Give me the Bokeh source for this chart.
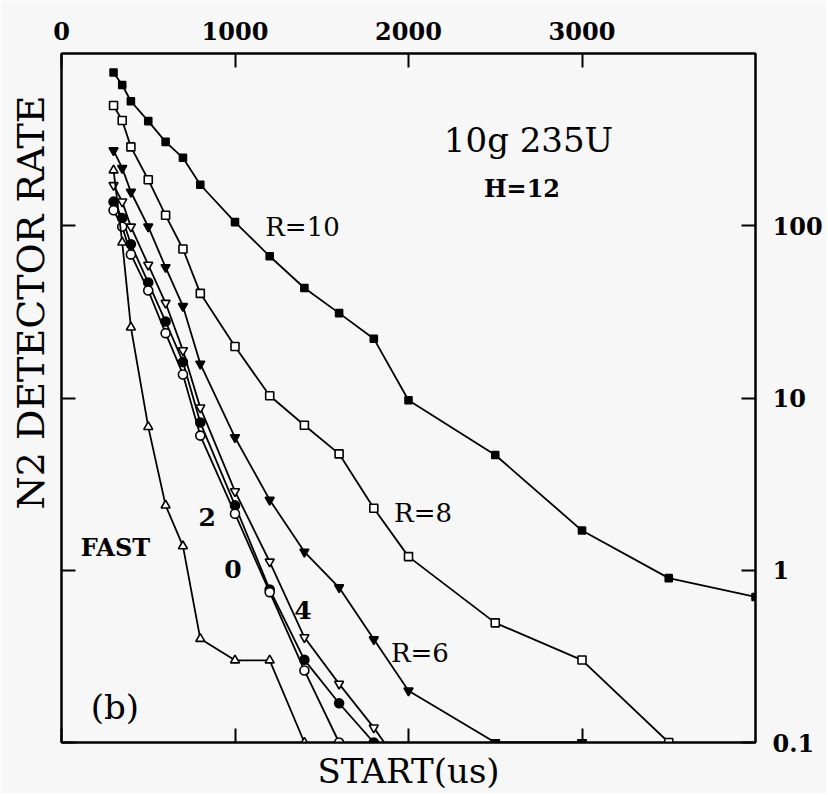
import math
from bokeh.plotting import figure
from bokeh.models import Range1d, LinearAxis, LogAxis, FixedTicker, Title
from bokeh.core.properties import value
from bokeh.embed import file_html
from bokeh.resources import INLINE

# ---- data ----
start_us = [300, 350, 400, 500, 600, 700, 800, 1000, 1200, 1400, 1600, 1800,
            2000, 2500, 3000, 3500, 4000]

r10_x = start_us[:17]
r10_rate = [776, 656, 528, 405, 307, 248, 173, 105, 66.5, 43.5, 31.1, 22.1,
            9.7, 4.67, 1.70, 0.90, 0.70]

r8_x = start_us[:16]
r8_rate = [499, 408, 287, 185, 115, 73.3, 40.5, 19.9, 10.3, 6.95, 4.74, 2.29,
           1.20, 0.495, 0.301, 0.10]

r6_x = start_us[:15]
r6_rate = [274, 216, 157, 98.7, 57.4, 34.1, 15.8, 5.90, 2.56, 1.28, 0.794,
           0.397, 0.200, 0.10, 0.10]

r4_x = start_us[:13]
r4_rate = [172, 138, 98.7, 59.3, 35.6, 18.9, 8.79, 2.87, 1.12, 0.408, 0.219,
           0.122, 0.063]

r2_x = start_us[:12]
r2_rate = [138, 111, 78, 46.8, 27.8, 16.2, 7.2, 2.38, 0.773, 0.302, 0.169, 0.10]

r0_x = start_us[:11]
r0_rate = [123, 98.7, 68.2, 42.1, 23.8, 13.7, 6.05, 2.13, 0.746, 0.262, 0.10]

fast_x = start_us[:10]
fast_rate = [210, 80, 25.7, 6.8, 2.38, 1.38, 0.40, 0.30, 0.30, 0.10]

x_ticks = [0, 1000, 2000, 3000]
y_ticks = [0.1, 1, 10, 100]
y_tick_labels = ["0.1", "1", "10", "100"]

SERIF = "DejaVu Serif"
BG = "#f7f7f7"

p = figure(width=826, height=793, x_range=Range1d(0, 4000),
           y_range=Range1d(0.1, 1000), y_axis_type="log",
           output_backend="svg", toolbar_location=None,
           min_border_left=61, min_border_top=53, min_border_bottom=51,
           min_border_right=71)
p.background_fill_color = BG
p.border_fill_color = BG
p.outline_line_color = "black"
p.outline_line_width = 2
p.xgrid.visible = False
p.ygrid.visible = False

def style_axis(ax, show_labels):
    ax.axis_line_color = "black"
    ax.axis_line_width = 2
    ax.major_tick_in = 14
    ax.major_tick_out = 0
    ax.major_tick_line_width = 2
    ax.major_tick_line_color = "black"
    ax.minor_tick_line_color = None
    ax.major_label_text_font = SERIF
    ax.major_label_text_font_style = "bold"
    ax.major_label_text_color = "black"
    if not show_labels:
        ax.major_label_text_font_size = "1px"
        ax.major_label_text_color = None
        ax.major_label_standoff = 0

# bottom & left: ticks only (titles added separately)
p.xaxis.ticker = FixedTicker(ticks=x_ticks)
p.yaxis.ticker = FixedTicker(ticks=y_ticks)
for ax in p.xaxis:
    style_axis(ax, False)
    ax.axis_label = "START(us)"
    ax.axis_label_text_font = SERIF
    ax.axis_label_text_font_style = "normal"
    ax.axis_label_text_font_size = "34px"
    ax.axis_label_text_color = "black"
    ax.axis_label_standoff = 8
for ax in p.yaxis:
    style_axis(ax, False)

top = LinearAxis(ticker=FixedTicker(ticks=x_ticks))
style_axis(top, True)
top.major_label_text_font_size = "24px"
top.major_label_standoff = 14
p.add_layout(top, "above")

right = LogAxis(ticker=FixedTicker(ticks=y_ticks))
style_axis(right, True)
right.major_label_text_font_size = "24px"
right.major_label_standoff = 17
right.major_label_overrides = {t: s for t, s in zip(y_ticks, y_tick_labels)}
p.add_layout(right, "right")

ytitle = Title(text="N2 DETECTOR RATE", align="right", offset=42,
               vertical_align="top",
               text_font=SERIF, text_font_size="38px",
               text_font_style="normal", text_color="black", standoff=14)
p.add_layout(ytitle, "left")

LW = 1.8
def series(xs, ys, marker, filled, size):
    p.line(xs, ys, line_color="black", line_width=LW)
    p.scatter(xs, ys, marker=marker, size=size, line_color="black",
              line_width=1.6, fill_color="black" if filled else "white")

series(r10_x, r10_rate, "square", True, 7)
series(r8_x, r8_rate, "square", False, 8)
series(r6_x, r6_rate, "inverted_triangle", True, 9)
series(r4_x, r4_rate, "inverted_triangle", False, 9)
series(r2_x, r2_rate, "circle", True, 9)
series(r0_x, r0_rate, "circle", False, 9)
series(fast_x, fast_rate, "triangle", False, 9)

def txt(x, y, s, size, style="normal", align="center"):
    p.text(x=[x], y=[y], text=[s], text_font=value(SERIF),
           text_font_size=value(size), text_font_style=style,
           text_align=align, text_baseline="alphabetic", text_color="black")

txt(2692, 313, "10g 235U", "34px")
txt(2654, 165, "H=12", "24px", "bold")
txt(1389, 98, "R=10", "26px")
txt(2084, 2.16, "R=8", "26px")
txt(2066, 0.329, "R=6", "26px")
txt(311, 1.36, "FAST", "24px", "bold")
txt(840, 2.03, "2", "25px", "bold")
txt(988, 1.02, "0", "25px", "bold")
txt(1392, 0.584, "4", "25px", "bold")
txt(308, 0.16, "(b)", "34px")

open("out.html", "w").write(file_html(p, INLINE))
